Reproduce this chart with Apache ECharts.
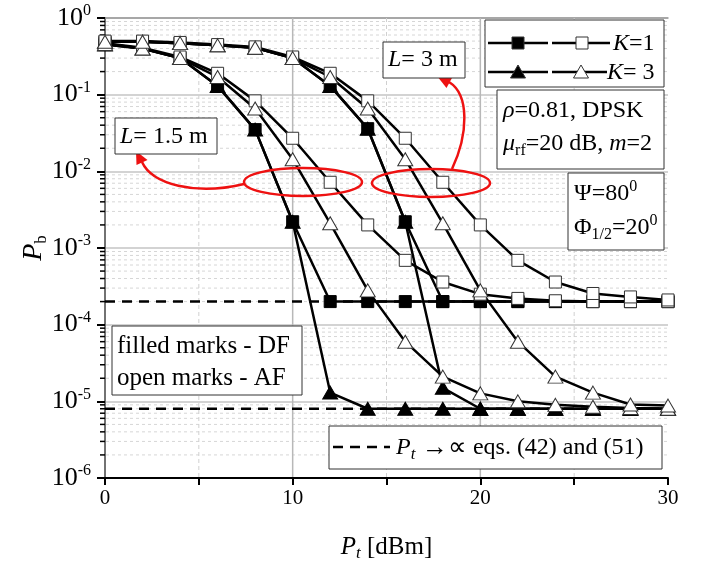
<!DOCTYPE html>
<html><head><meta charset="utf-8">
<script src="https://cdn.jsdelivr.net/npm/echarts@6/dist/echarts.min.js"></script>
<style>html,body{margin:0;padding:0;background:#fff}#c{width:705px;height:572px}</style>
</head><body><div id="c"></div>
<script>
// ---- data ----
const Pt = [0,2,4,6,8,10,12,14,16,18,20,22,24,26,28,30];
// L = 1.5 m
const L15_DF_K1 = [0.45,0.40,0.30,0.13,0.035,0.0022,2.0e-4,2.0e-4,2.0e-4,2.0e-4,2.0e-4,2.0e-4,2.0e-4,2.0e-4,2.0e-4,2.0e-4];
const L15_DF_K3 = [0.45,0.40,0.30,0.13,0.035,0.0022,1.3e-5,8e-6,8e-6,8e-6,8e-6,8e-6,8e-6,8e-6,8e-6,8e-6];
const L15_AF_K1 = [0.47,0.41,0.31,0.19,0.083,0.027,0.0072,0.002,6.9e-4,3.6e-4,2.5e-4,2.2e-4,2.05e-4,2.0e-4,2.0e-4,2.0e-4];
const L15_AF_K3 = [0.46,0.40,0.30,0.17,0.066,0.0144,0.0021,2.8e-4,6e-5,2.1e-5,1.27e-5,1.0e-5,9e-6,8.5e-6,8.2e-6,8e-6];
// L = 3 m
const L3_DF_K1 = [0.49,0.49,0.47,0.44,0.41,0.30,0.13,0.036,0.0022,2.0e-4,2.0e-4,2.0e-4,2.0e-4,2.0e-4,2.0e-4,2.0e-4];
const L3_DF_K3 = [0.49,0.49,0.47,0.44,0.41,0.30,0.13,0.036,0.0022,1.5e-5,8e-6,8e-6,8e-6,8e-6,8e-6,8e-6];
const L3_AF_K1 = [0.5,0.5,0.48,0.45,0.42,0.31,0.19,0.083,0.027,0.0072,0.002,6.9e-4,3.6e-4,2.55e-4,2.3e-4,2.1e-4];
const L3_AF_K3 = [0.49,0.49,0.47,0.44,0.41,0.30,0.17,0.066,0.0144,0.0021,2.8e-4,6e-5,2.1e-5,1.3e-5,9.1e-6,8.8e-6];
// asymptotes (Pt -> infinity)
const asymX = [0,30];
const asymK1 = [2.0e-4,2.0e-4];
const asymK3 = [8.0e-6,8.0e-6];
// ticks
const xTickLabels = {0:'0',10:'10',20:'20',30:'30'};
const yExponents = {'-6':'-6','-5':'-5','-4':'-4','-3':'-3','-2':'-2','-1':'-1','0':'0'};
const xGridVals = [5,10,15,20,25];
const yMinorVals = [];
for (let e=-6; e<0; e++) for (let m=2; m<=9; m++) yMinorVals.push(m*Math.pow(10,e));

const SERIF = 'Liberation Serif';
const pair = (ys) => Pt.map((x,i)=>[x, ys[i]]);

function curve(name, ys, symbol, filled){
  return {
    name, type:'line', data: pair(ys), z: 5,
    symbol, symbolSize: symbol==='triangle' ? [15,13] : 12,
    showAllSymbol: true, animation:false,
    lineStyle:{color:'#000', width:2.5},
    itemStyle: filled ? {color:'#000', borderColor:'#000', borderWidth:1}
                      : {color:'#fff', borderColor:'#333', borderWidth:1},
    emphasis:{disabled:true}
  };
}

const chart = echarts.init(document.getElementById('c'), null, {renderer:'canvas'});

const txt = (x,y,text,fs) => { fs = fs || 24; return {type:'text', x, y, z:100, style: {
  text, fontFamily:SERIF, fontSize:fs, fill:'#000', verticalAlign:'middle', align:'left',
  rich:{
    i:{fontFamily:SERIF, fontStyle:'italic', fontSize:fs, lineHeight:30},
    n:{fontFamily:SERIF, fontSize:fs, lineHeight:30},
    sub:{fontFamily:SERIF, fontSize:16, lineHeight:14, verticalAlign:'bottom'},
    subi:{fontFamily:SERIF, fontStyle:'italic', fontSize:17, lineHeight:14, verticalAlign:'bottom'},
    sup:{fontFamily:SERIF, fontSize:16, lineHeight:14, verticalAlign:'top'},
    big:{fontFamily:SERIF, fontSize:fs+2, lineHeight:30}
  }
}}; };
const box = (x1,y1,x2,y2) => ({type:'rect', z:90, shape:{x:x1,y:y1,width:x2-x1,height:y2-y1},
  style:{fill:'#fff', stroke:'#333', lineWidth:1}});
const seg = (x1,y1,x2,y2,dash) => ({type:'line', z:95, shape:{x1,y1,x2,y2},
  style:{stroke:'#000', lineWidth:2.5, lineDash: dash||null}});
const sq = (cx,cy,filled) => ({type:'rect', z:96, shape:{x:cx-6,y:cy-6,width:12,height:12},
  style:{fill: filled?'#000':'#fff', stroke:'#333', lineWidth:1}});
const tri = (cx,cy,filled) => ({type:'polygon', z:96, shape:{points:[[cx,cy-7],[cx+7.5,cy+6],[cx-7.5,cy+6]]},
  style:{fill: filled?'#000':'#fff', stroke:'#333', lineWidth:1}});

const RED = '#ee1111';

const option = {
  backgroundColor:'#fff',
  animation:false,
  grid:{left:105, right:37, top:18, bottom:94, containLabel:false},
  xAxis:[{
    type:'value', min:0, max:30, interval:5,
    axisLine:{show:true, onZero:false, lineStyle:{color:'#000', width:2}},
    axisTick:{show:true, length:7, lineStyle:{color:'#000', width:2}},
    axisLabel:{margin:10, color:'#000', fontFamily:SERIF, fontSize:21,
      formatter:(v)=> xTickLabels[v] !== undefined ? xTickLabels[v] : ''},
    splitLine:{show:false},
    name:'{i|P}{sub|t}{n| [dBm]}', nameLocation:'middle', nameGap:54,
    nameTextStyle:{color:'#000', fontFamily:SERIF, fontSize:24,
      rich:{i:{fontFamily:SERIF, fontStyle:'italic', fontSize:25, lineHeight:30},
            n:{fontFamily:SERIF, fontSize:25, lineHeight:30},
            sub:{fontFamily:SERIF, fontStyle:'italic', fontSize:17, lineHeight:14, verticalAlign:'bottom'}}}
  },{
    type:'value', min:0, max:30, position:'top',
    axisLine:{show:true, lineStyle:{color:'#999', width:1.5}},
    axisTick:{show:false}, axisLabel:{show:false}, splitLine:{show:false}
  }],
  yAxis:[{
    type:'log', logBase:10, min:1e-6, max:1,
    axisLine:{show:true, onZero:false, lineStyle:{color:'#000', width:2}},
    axisTick:{show:true, length:8, lineStyle:{color:'#000', width:2}},
    axisLabel:{margin:14, color:'#000', fontFamily:SERIF,
      formatter:(v)=>{ const e = String(Math.round(Math.log10(v))); return '{b|10}{s|' + yExponents[e] + '}'; },
      rich:{b:{fontFamily:SERIF, fontSize:26, lineHeight:30},
            s:{fontFamily:SERIF, fontSize:16, lineHeight:16, verticalAlign:'top'}}},
    splitLine:{show:true, lineStyle:{color:'#c4c4c4', width:1.5}},
    name:'{i|P}{sub|b}', nameLocation:'middle', nameGap:55, nameRotate:90, nameMoveOverlap:false,
    nameTextStyle:{color:'#000', fontFamily:SERIF,
      rich:{i:{fontFamily:SERIF, fontStyle:'italic', fontSize:28, lineHeight:32},
            sub:{fontFamily:SERIF, fontSize:17, lineHeight:14, verticalAlign:'bottom'}}}
  },{
    type:'log', logBase:10, min:1e-6, max:1, position:'right',
    axisLine:{show:true, lineStyle:{color:'#999', width:1.5}},
    axisTick:{show:false}, axisLabel:{show:false}, splitLine:{show:false}
  }],
  series:[
    { // minor horizontal grid + minor ticks
      type:'custom', silent:true, z:1, clip:false,
      data: yMinorVals.map(v=>[0,v]),
      encode:{x:0, y:1},
      renderItem:(params, api)=>{
        const v = api.value(1);
        const a = api.coord([0,v]), b = api.coord([30,v]);
        return {type:'group', children:[
          {type:'line', shape:{x1:a[0]+1,y1:a[1],x2:b[0],y2:b[1]}, style:{stroke:'#d6d6d6', lineWidth:1, lineDash:[3,3]}},
          {type:'line', shape:{x1:a[0]-5,y1:a[1],x2:a[0],y2:a[1]}, style:{stroke:'#000', lineWidth:1.5}}
        ]};
      }
    },
    { // vertical grid
      type:'custom', silent:true, z:1, clip:false,
      data: xGridVals.map(v=>[v,1]),
      encode:{x:0, y:1},
      renderItem:(params, api)=>{
        const v = api.value(0);
        const a = api.coord([v,1]), b = api.coord([v,1e-6]);
        const major = (v % 10 === 0);
        return {type:'line', shape:{x1:a[0],y1:a[1],x2:b[0],y2:b[1]-1},
          style:{stroke: major?'#b8b8b8':'#d0d0d0', lineWidth: major?1.5:1, lineDash: major?null:[4,3]}};
      }
    },
    { type:'line', data: asymX.map((x,i)=>[x,asymK1[i]]), symbol:'none', z:3,
      lineStyle:{color:'#000', width:2.5, type:[10,7]}, emphasis:{disabled:true} },
    { type:'line', data: asymX.map((x,i)=>[x,asymK3[i]]), symbol:'none', z:3,
      lineStyle:{color:'#000', width:2.5, type:[10,7]}, emphasis:{disabled:true} },
    curve('L1.5 DF K=1', L15_DF_K1, 'rect', true),
    curve('L1.5 DF K=3', L15_DF_K3, 'triangle', true),
    curve('L3 DF K=1', L3_DF_K1, 'rect', true),
    curve('L3 DF K=3', L3_DF_K3, 'triangle', true),
    curve('L1.5 AF K=1', L15_AF_K1, 'rect', false),
    curve('L1.5 AF K=3', L15_AF_K3, 'triangle', false),
    curve('L3 AF K=1', L3_AF_K1, 'rect', false),
    curve('L3 AF K=3', L3_AF_K3, 'triangle', false)
  ],
  graphic:[
    // legend
    box(485,20,664,87),
    seg(488,43,548,43), sq(518,43,true),
    seg(552,43,610,43), sq(582,43,false),
    txt(613,44,'{i|K}{n|=1}'),
    seg(488,72,548,72), tri(518,72,true),
    seg(552,72,607,72), tri(581,72,false),
    txt(607,73,'{i|K}{n|= 3}'),
    // parameters
    box(497,90,664,169),
    txt(503,111,'{i|ρ}{n|=0.81, DPSK}'),
    txt(503,144,'{i|μ}{sub|rf}{n|=20 dB, }{i|m}{n|=2}'),
    box(568,173,664,250),
    txt(574,194,'{n|Ψ=80}{sup|0}'),
    txt(574,228,'{n|Φ}{sub|1/2}{n|=20}{sup|0}'),
    // marks note
    box(112,326,302,395),
    txt(117,346,'{n|filled marks - DF}',25),
    txt(117,378,'{n|open marks - AF}',25),
    // asymptote legend
    box(329,426,662,469),
    seg(333,447,390,447,[10,7]),
    txt(396,448,'{i|P}{subi|t}{big| →∝}{n| eqs. (42) and (51)}'),
    // L labels
    box(115,118,217,154),
    txt(120,137,'{i|L}{n|= 1.5 m}'),
    box(383,42,465,78),
    txt(388,60,'{i|L}{n|= 3 m}'),
    // red ellipses
    {type:'ellipse', z:80, shape:{cx:303, cy:182, rx:59, ry:14}, style:{fill:null, stroke:RED, lineWidth:2.5}},
    {type:'ellipse', z:80, shape:{cx:431, cy:183, rx:59, ry:14}, style:{fill:null, stroke:RED, lineWidth:2.5}},
    // arrows
    {type:'bezierCurve', z:80, shape:{x1:244,y1:184, cpx1:195,cpy1:196, cpx2:152,cpy2:184, x2:142,y2:162},
      style:{fill:null, stroke:RED, lineWidth:2.5}},
    {type:'polygon', z:81, shape:{points:[[136,151],[147.5,160],[136.5,165]]}, style:{fill:RED}},
    {type:'bezierCurve', z:80, shape:{x1:452,y1:169, cpx1:468,cpy1:135, cpx2:470,cpy2:95, x2:449,y2:82},
      style:{fill:null, stroke:RED, lineWidth:2.5}},
    {type:'polygon', z:81, shape:{points:[[437,76],[452.5,77],[446.5,88]]}, style:{fill:RED}}
  ]
};
chart.setOption(option);
</script>
</body></html>
